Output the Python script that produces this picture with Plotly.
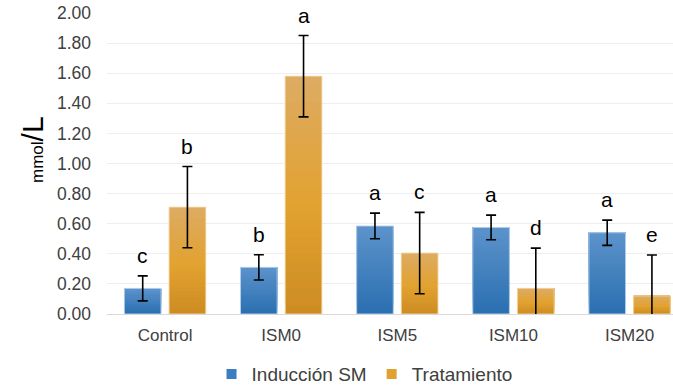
import plotly.graph_objects as go

# Data
categories = ["Control", "ISM0", "ISM5", "ISM10", "ISM20"]
induccion = [0.17, 0.31, 0.585, 0.575, 0.54]
induccion_err = [0.083, 0.084, 0.085, 0.082, 0.084]
tratamiento = [0.71, 1.58, 0.405, 0.17, 0.12]
tratamiento_err = [0.27, 0.27, 0.27, 0.268, 0.272]
letras_induccion = ["c", "b", "a", "a", "a"]
letras_tratamiento = ["b", "a", "c", "d", "e"]

FONT = "Liberation Sans, Arial, sans-serif"
BARGAP = 0.23
BARGROUPGAP = 0.18
N_STEPS = 28  # colour steps of the vertical gradient inside each bar

# gradient stops: (fraction of bar height from the bottom, rgb)
blue_stops = [(0.0, (42, 111, 177)), (1.0, (93, 147, 203))]
gold_stops = [(0.0, (205, 139, 34)), (0.45, (226, 162, 47)), (1.0, (221, 171, 99))]


def mix(stops, f):
    for (f0, c0), (f1, c1) in zip(stops[:-1], stops[1:]):
        if f <= f1:
            t = (f - f0) / (f1 - f0)
            r, g, b = (round(a + (b_ - a) * t) for a, b_ in zip(c0, c1))
            return f"rgb({r},{g},{b})"
    r, g, b = stops[-1][1]
    return f"rgb({r},{g},{b})"


xs = list(range(len(categories)))
series = [
    ("Inducción SM", induccion, induccion_err, blue_stops, "ind", "#3a7dc0", "rgba(190,215,240,0.9)"),
    ("Tratamiento", tratamiento, tratamiento_err, gold_stops, "trat", "#e0a12e", "rgba(245,215,160,0.9)"),
]

fig = go.Figure()
for name, vals, errs, stops, group, legend_col, edge in series:
    # each layer covers from its start fraction up to the bar top, so the
    # upper (lighter) layers sit over the lower ones without seams
    for k in range(N_STEPS):
        f0 = k / N_STEPS
        fig.add_bar(
            x=xs,
            y=[v * (1 - f0) for v in vals],
            base=[v * f0 for v in vals],
            offsetgroup=group,
            marker=dict(color=mix(stops, (k + 0.5) / N_STEPS), line=dict(width=0)),
            showlegend=False,
            hoverinfo="skip",
        )
    # outline + error bars
    fig.add_bar(
        x=xs,
        y=vals,
        offsetgroup=group,
        marker=dict(color="rgba(0,0,0,0)", line=dict(color=edge, width=1)),
        error_y=dict(type="data", array=errs, color="black", thickness=1.6, width=5),
        showlegend=False,
        name=name,
    )
    # legend entry
    fig.add_scatter(
        x=[None], y=[None], mode="markers", name=name,
        marker=dict(symbol="square", size=10, color=legend_col),
    )

# significance letters above the error bars
slot = (1 - BARGAP) / 2
annotations = []
for s, (vals, errs, letters) in enumerate(
    [(induccion, induccion_err, letras_induccion), (tratamiento, tratamiento_err, letras_tratamiento)]
):
    off = (s - 0.5) * slot
    for i, (v, e, t) in enumerate(zip(vals, errs, letters)):
        annotations.append(dict(
            x=i + off, y=v + e, xref="x", yref="y", text=t, showarrow=False,
            yanchor="bottom", yshift=7, font=dict(family=FONT, size=21, color="#000000"),
        ))

# y axis title
annotations.append(dict(
    xref="paper", yref="paper", x=0, y=0.545, xshift=-74, showarrow=False,
    textangle=-90, xanchor="center", yanchor="middle",
    text='<span style="font-size:17px">mmol</span><span style="font-size:30px">/L</span>',
    font=dict(family=FONT, size=17, color="#000000"),
))

fig.update_layout(
    width=673, height=387,
    margin=dict(l=107, r=0, t=13, b=73, autoexpand=False),
    paper_bgcolor="white", plot_bgcolor="white",
    barmode="group", bargap=BARGAP, bargroupgap=BARGROUPGAP,
    font=dict(family=FONT, color="#404040"),
    showlegend=True,
    legend=dict(
        orientation="h", x=0.455, xanchor="center", y=-0.2, yanchor="middle",
        font=dict(family=FONT, size=19, color="#404040"),
        itemwidth=30, tracegroupgap=0,
    ),
    annotations=annotations,
)
fig.update_xaxes(
    range=[-0.5, 4.374], tickvals=xs, ticktext=categories,
    showgrid=False, zeroline=False, showline=True, linecolor="#d9d9d9", linewidth=1,
    ticks="", tickfont=dict(family=FONT, size=17, color="#404040"),
    ticklabelstandoff=6,
)
fig.update_yaxes(
    range=[0, 2], dtick=0.2, tickformat=".2f",
    showgrid=True, gridcolor="#eeeeee", gridwidth=1, zeroline=False, showline=False,
    ticks="", tickfont=dict(family=FONT, size=17.5, color="#404040"),
    ticklabelstandoff=15,
)

fig.write_html("out.html")
